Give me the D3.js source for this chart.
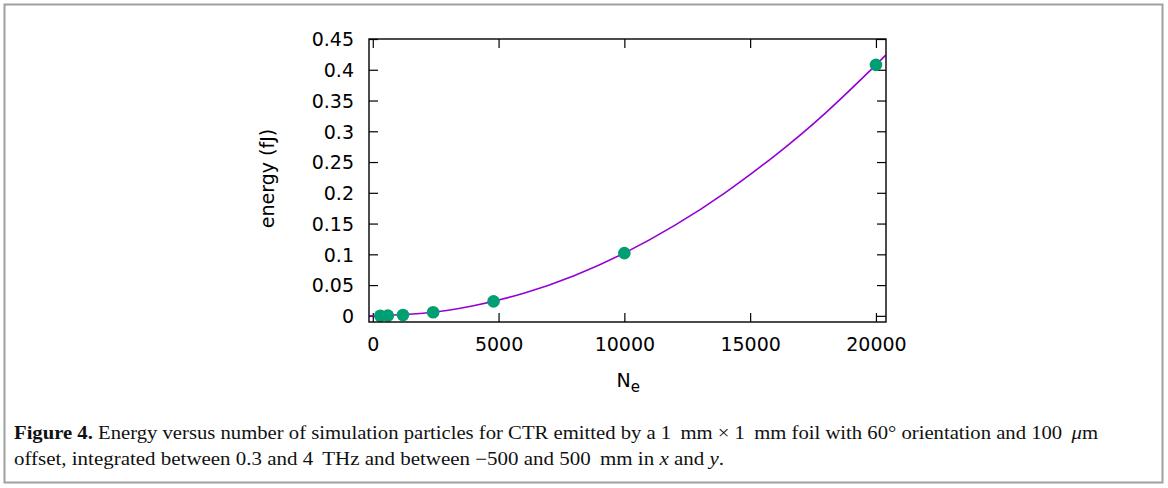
<!DOCTYPE html>
<html>
<head>
<meta charset="utf-8">
<script src="https://cdn.jsdelivr.net/npm/d3@7"></script>
<style>
  html, body { margin: 0; padding: 0; background: #fff; }
  svg { display: block; }
</style>
</head>
<body>
<svg id="fig" width="1168" height="488"></svg>
<script>
// Simulated CTR energy for increasing numbers of simulation particles
const particles = [300, 600, 1200, 2400, 4800, 10000, 20000];
const energy = [0.0001, 0.0004, 0.0015, 0.0058, 0.0235, 0.102, 0.408];

// Fitted trend (sampled along the fit curve)
const fitN = [-150, 0, 2000, 4000, 6000, 8000, 10000, 12000, 14000, 16000, 18000, 20000, 20400];
const fitE = [0.0000, 0.0000, 0.0041, 0.0163, 0.0367, 0.0653, 0.102, 0.147, 0.200, 0.261, 0.330, 0.408, 0.4245];

const xTicks = [0, 5000, 10000, 15000, 20000];
const yTicks = [0, 0.05, 0.1, 0.15, 0.2, 0.25, 0.3, 0.35, 0.4, 0.45];
const yTickLabels = ["0", "0.05", "0.1", "0.15", "0.2", "0.25", "0.3", "0.35", "0.4", "0.45"];

const svg = d3.select("#fig");
const tickFont = "'DejaVu Sans', sans-serif";
const capFont = "'Liberation Serif', 'DejaVu Serif', serif";

// Outer figure frame
svg.append("rect")
  .attr("x", 4.5).attr("y", 4.5).attr("width", 1158).attr("height", 478)
  .attr("fill", "none").attr("stroke", "#a0a0a0").attr("stroke-width", 2);

const L = 369, R = 886, T = 39, B = 322;
const x = d3.scaleLinear().domain([-150, 20400]).range([L, R]);
const y = d3.scaleLinear().domain([-0.01, 0.45]).range([B, T]);

const tickLen = 9;
const plot = svg.append("g");

// Inward ticks on all four sides
const xAxisB = d3.axisBottom(x).tickValues(xTicks).tickSize(-tickLen).tickFormat(d => d);
const xAxisT = d3.axisTop(x).tickValues(xTicks).tickSize(-tickLen).tickFormat("");
const yAxisL = d3.axisLeft(y).tickValues(yTicks).tickSize(-tickLen)
  .tickFormat((d, i) => yTickLabels[i]);
const yAxisR = d3.axisRight(y).tickValues(yTicks).tickSize(-tickLen).tickFormat("");

function styleAxis(g) {
  g.select(".domain").remove();
  g.selectAll(".tick line").attr("stroke", "#000").attr("stroke-width", 1.2);
  g.selectAll(".tick text").attr("fill", "#000")
    .style("font-family", tickFont).style("font-size", "19px");
}

const gxB = plot.append("g").attr("transform", `translate(0,${B})`).call(xAxisB).call(styleAxis);
gxB.selectAll(".tick text").attr("y", 16).attr("dy", "0.71em");
plot.append("g").attr("transform", `translate(0,${T})`).call(xAxisT).call(styleAxis);
const gyL = plot.append("g").attr("transform", `translate(${L},0)`).call(yAxisL).call(styleAxis);
gyL.selectAll(".tick text").attr("x", -15).attr("dy", "0.36em");
plot.append("g").attr("transform", `translate(${R},0)`).call(yAxisR).call(styleAxis);

// Clip for the data marks
svg.append("defs").append("clipPath").attr("id", "plotClip")
  .append("rect").attr("x", L).attr("y", T).attr("width", R - L).attr("height", B - T);

// Fit curve
const fitPts = fitN.map((n, i) => [n, fitE[i]]);
plot.append("path")
  .datum(fitPts)
  .attr("clip-path", "url(#plotClip)")
  .attr("fill", "none")
  .attr("stroke", "#9400d3")
  .attr("stroke-width", 1.6)
  .attr("d", d3.line().x(d => x(d[0])).y(d => y(d[1])).curve(d3.curveNatural));

// Simulation points
plot.append("g").selectAll("circle")
  .data(particles.map((n, i) => [n, energy[i]]))
  .join("circle")
  .attr("cx", d => x(d[0]))
  .attr("cy", d => y(d[1]))
  .attr("r", 6.3)
  .attr("fill", "#009e73");

// Plot frame
plot.append("rect")
  .attr("x", L).attr("y", T).attr("width", R - L).attr("height", B - T)
  .attr("fill", "none").attr("stroke", "#000").attr("stroke-width", 1.4);

// Axis titles
svg.append("text")
  .attr("transform", `translate(274,${(T + B) / 2 - 2}) rotate(-90)`)
  .attr("text-anchor", "middle")
  .style("font-family", tickFont).style("font-size", "19px")
  .text("energy (fJ)");

const xt = svg.append("text")
  .attr("x", (L + R) / 2 - 11).attr("y", 387)
  .style("font-family", tickFont).style("font-size", "19px");
xt.append("tspan").text("N");
xt.append("tspan").attr("dy", 5).style("font-size", "15px").text("e");

// Caption
const cap1 = svg.append("text")
  .attr("x", 14).attr("y", 439)
  .attr("textLength", 1084).attr("lengthAdjust", "spacingAndGlyphs")
  .style("font-family", capFont).style("font-size", "18px").attr("fill", "#111");
cap1.append("tspan").style("font-weight", "bold").text("Figure 4.");
cap1.append("tspan").text(" Energy versus number of simulation particles for CTR emitted by a 1\u2009 mm \u00d7 1\u2009 mm foil with 60\u00b0 orientation and 100\u2009 ");
cap1.append("tspan").style("font-style", "italic").text("\u03bc");
cap1.append("tspan").text("m");

const cap2 = svg.append("text")
  .attr("x", 14).attr("y", 465)
  .attr("textLength", 710).attr("lengthAdjust", "spacingAndGlyphs")
  .style("font-family", capFont).style("font-size", "18px").attr("fill", "#111");
cap2.append("tspan").text("offset, integrated between 0.3 and 4\u2009 THz and between \u2212500 and 500\u2009 mm in ");
cap2.append("tspan").style("font-style", "italic").text("x");
cap2.append("tspan").text(" and ");
cap2.append("tspan").style("font-style", "italic").text("y");
cap2.append("tspan").text(".");
</script>
</body>
</html>
